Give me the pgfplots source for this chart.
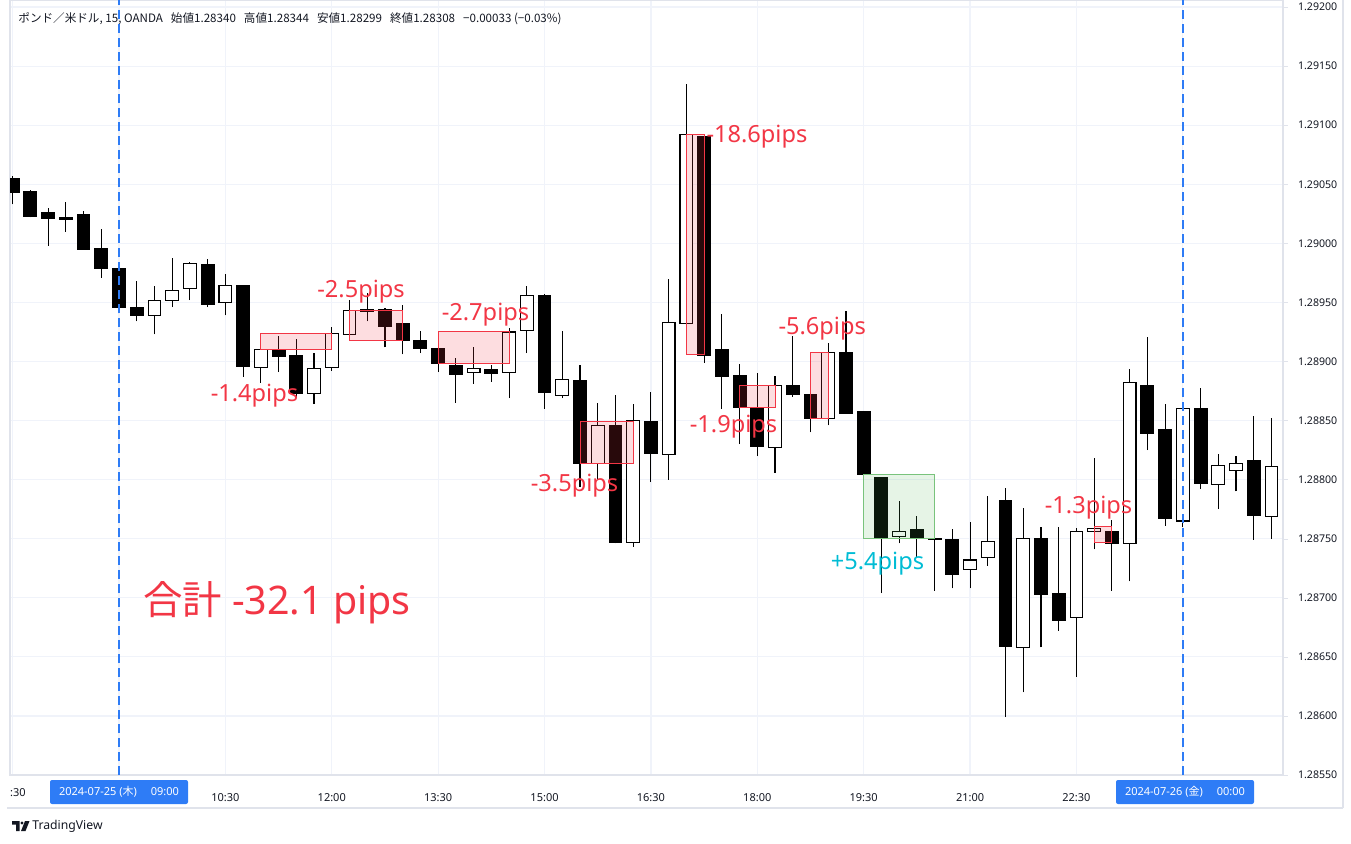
\documentclass[border=0pt]{standalone}
\usepackage{fontspec}
\setmainfont{Noto Sans}
\newfontfamily\jp{Noto Sans CJK JP}
\usepackage{pgfplots}
\usepackage{pgfplotstable}
\pgfplotsset{compat=1.18}
\definecolor{tvred}{HTML}{F23645}
\definecolor{tvgreen}{HTML}{4CAF50}
\definecolor{tvcyan}{HTML}{00BCD4}
\definecolor{tvblue}{HTML}{2E7CF6}
\definecolor{tvgrid}{HTML}{F0F3FA}
\definecolor{tvborder}{HTML}{E0E3EB}
\definecolor{tvtext}{HTML}{131722}
\newcommand\pipfont{\fontsize{11.8}{13}\selectfont}
\newcommand\tickfont{\fontsize{5.5}{6.5}\selectfont}
\newcommand\ytickfont{\fontsize{5.3}{6.3}\selectfont}

\pgfplotstableread{
i o h l c d
-6 1.29055 1.29057 1.29033 1.29043 1
-5 1.29044 1.29045 1.29022 1.29023 1
-4 1.29026 1.29030 1.28998 1.29021 1
-3 1.29022 1.29035 1.29010 1.29020 1
-2 1.29024 1.29027 1.28995 1.28995 1
-1 1.28996 1.29012 1.28971 1.28979 1
0 1.28979 1.28981 1.28941 1.28946 1
1 1.28946 1.28968 1.28934 1.28939 1
2 1.28939 1.28964 1.28923 1.28952 0
3 1.28952 1.28988 1.28946 1.28960 0
4 1.28962 1.28984 1.28952 1.28983 0
5 1.28982 1.28987 1.28946 1.28948 1
6 1.28950 1.28974 1.28939 1.28964 0
7 1.28964 1.28965 1.28887 1.28896 1
8 1.28895 1.28911 1.28882 1.28910 0
9 1.28910 1.28922 1.28891 1.28904 1
10 1.28905 1.28919 1.28869 1.28873 1
11 1.28873 1.28907 1.28864 1.28894 0
12 1.28895 1.28929 1.28892 1.28924 0
13 1.28923 1.28952 1.28922 1.28943 0
14 1.28944 1.28958 1.28934 1.28942 1
15 1.28944 1.28945 1.28912 1.28930 1
16 1.28932 1.28948 1.28906 1.28918 1
17 1.28918 1.28926 1.28907 1.28911 1
18 1.28911 1.28914 1.28891 1.28898 1
19 1.28897 1.28903 1.28865 1.28889 1
20 1.28891 1.28912 1.28881 1.28894 0
21 1.28893 1.28897 1.28883 1.28890 1
22 1.28891 1.28928 1.28869 1.28925 0
23 1.28926 1.28964 1.28907 1.28956 0
24 1.28956 1.28957 1.28860 1.28874 1
25 1.28871 1.28926 1.28869 1.28885 0
26 1.28884 1.28897 1.28794 1.28814 1
27 1.28814 1.28865 1.28800 1.28846 0
28 1.28846 1.28872 1.28746 1.28747 1
29 1.28747 1.28864 1.28743 1.28850 0
30 1.28849 1.28874 1.28798 1.28822 1
31 1.28821 1.28970 1.28800 1.28933 0
32 1.28932 1.29135 1.28931 1.29092 0
33 1.29090 1.29091 1.28899 1.28905 1
34 1.28910 1.28940 1.28860 1.28887 1
35 1.28888 1.28898 1.28830 1.28861 1
36 1.28860 1.28890 1.28820 1.28828 1
37 1.28827 1.28888 1.28806 1.28880 0
38 1.28880 1.28922 1.28870 1.28872 1
39 1.28872 1.28876 1.28840 1.28852 1
40 1.28852 1.28916 1.28846 1.28908 0
41 1.28908 1.28943 1.28856 1.28856 1
42 1.28858 1.28858 1.28804 1.28804 1
43 1.28802 1.28802 1.28704 1.28751 1
44 1.28752 1.28782 1.28746 1.28756 0
45 1.28758 1.28769 1.28734 1.28750 1
46 1.28750 1.28750 1.28706 1.28749 1
47 1.28749 1.28758 1.28708 1.28720 1
48 1.28724 1.28764 1.28708 1.28732 0
49 1.28734 1.28786 1.28727 1.28748 0
50 1.28782 1.28793 1.28599 1.28659 1
51 1.28658 1.28776 1.28620 1.28750 0
52 1.28750 1.28760 1.28658 1.28703 1
53 1.28704 1.28760 1.28672 1.28681 1
54 1.28683 1.28759 1.28633 1.28756 0
55 1.28756 1.28818 1.28741 1.28759 0
56 1.28756 1.28766 1.28706 1.28746 1
57 1.28746 1.28894 1.28714 1.28882 0
58 1.28880 1.28921 1.28825 1.28839 1
59 1.28842 1.28864 1.28761 1.28767 1
60 1.28765 1.28860 1.28760 1.28860 0
61 1.28860 1.28878 1.28792 1.28797 1
62 1.28796 1.28822 1.28775 1.28812 0
63 1.28808 1.28820 1.28790 1.28814 0
64 1.28816 1.28854 1.28749 1.28770 1
65 1.28769 1.28852 1.28750 1.28811 0
}\candles

\begin{document}
\begin{tikzpicture}
\path[use as bounding box] (0,0) rectangle (675.5pt,421.5pt);
\begin{axis}[
  at={(5pt,34pt)}, anchor=south west, scale only axis,
  width=636.5pt, height=387.5pt,
  xmin=-6.148, xmax=65.65, ymin=1.2855, ymax=1.29206,
  axis line style={draw=tvborder, line width=0.6pt},
  grid=major, major grid style={draw=tvgrid, line width=0.6pt},
  xtick={-6,0,6,12,18,24,30,36,42,48,54,60},
  xticklabels={{},{},10:30,12:00,13:30,15:00,16:30,18:00,19:30,21:00,22:30,{}},
  xtick style={draw=none},
  xticklabel style={font=\tickfont, text=tvtext, anchor=center, yshift=-9pt},
  ytick={1.2855,1.2860,1.2865,1.2870,1.2875,1.2880,1.2885,1.2890,1.2895,1.2900,1.2905,1.2910,1.2915,1.2920},
  yticklabels={1.28550,1.28600,1.28650,1.28700,1.28750,1.28800,1.28850,1.28900,1.28950,1.29000,1.29050,1.29100,1.29150,1.29200},
  ytick pos=right, yticklabel pos=right,
  ytick style={draw=tvborder}, tick align=outside, major tick length=2.5pt,
  yticklabel style={font=\ytickfont, text=tvtext, anchor=west, xshift=1.5pt},
  wick/.style={black, line width=0.55pt, forget plot},
  body/.style={draw=black, line width=0.55pt, forget plot},
  redbox/.style={draw=tvred, line width=0.5pt, fill=tvred, fill opacity=0.17, forget plot},
  greenbox/.style={draw=tvgreen!75, line width=0.5pt, fill=tvgreen, fill opacity=0.14, forget plot},
]
\pgfplotsforeachungrouped \r in {0,...,71}{
  \pgfplotstablegetelem{\r}{i}\of\candles \let\ci\pgfplotsretval
  \pgfplotstablegetelem{\r}{o}\of\candles \let\co\pgfplotsretval
  \pgfplotstablegetelem{\r}{h}\of\candles \let\ch\pgfplotsretval
  \pgfplotstablegetelem{\r}{l}\of\candles \let\cl\pgfplotsretval
  \pgfplotstablegetelem{\r}{c}\of\candles \let\cc\pgfplotsretval
  \pgfplotstablegetelem{\r}{d}\of\candles \let\cd\pgfplotsretval
  \pgfmathsetmacro\xa{\ci-0.36}
  \pgfmathsetmacro\xb{\ci+0.36}
  \edef\temp{\noexpand\addplot[wick] coordinates {(\ci,\cl) (\ci,\ch)};
    \noexpand\addplot[body, fill=\ifnum\cd=1 black\else white\fi] coordinates {(\xa,\co) (\xb,\co) (\xb,\cc) (\xa,\cc)} -- cycle;}
  \temp
}
% trade boxes
\addplot[redbox] coordinates {(8,1.28910) (12,1.28910) (12,1.28924) (8,1.28924)} -- cycle;
\addplot[redbox] coordinates {(13,1.28918) (16,1.28918) (16,1.28943) (13,1.28943)} -- cycle;
\addplot[redbox] coordinates {(18,1.28898) (22,1.28898) (22,1.28925) (18,1.28925)} -- cycle;
\addplot[redbox] coordinates {(26,1.28814) (29,1.28814) (29,1.28849) (26,1.28849)} -- cycle;
\addplot[redbox] coordinates {(32,1.28906) (33,1.28906) (33,1.29092) (32,1.29092)} -- cycle;
\addplot[redbox] coordinates {(35,1.28861) (37,1.28861) (37,1.28880) (35,1.28880)} -- cycle;
\addplot[redbox] coordinates {(39,1.28852) (40,1.28852) (40,1.28908) (39,1.28908)} -- cycle;
\addplot[greenbox] coordinates {(42,1.28750) (46,1.28750) (46,1.28804) (42,1.28804)} -- cycle;
\addplot[redbox] coordinates {(55,1.28747) (56,1.28747) (56,1.28760) (55,1.28760)} -- cycle;
% session lines
\addplot[tvblue, line width=0.8pt, dash pattern=on 4.5pt off 2.5pt, forget plot] coordinates {(0,1.2855) (0,1.29206)};
\addplot[tvblue, line width=0.8pt, dash pattern=on 4.5pt off 2.5pt, forget plot] coordinates {(60,1.2855) (60,1.29206)};
% labels
\node[text=tvred, font=\pipfont] at (7.64,1.28871) {-1.4pips};
\node[text=tvred, font=\pipfont] at (13.65,1.28959) {-2.5pips};
\node[text=tvred, font=\pipfont] at (20.67,1.28940) {-2.7pips};
\node[text=tvred, font=\pipfont] at (25.69,1.28795) {-3.5pips};
\node[text=tvred, font=\pipfont] at (35.98,1.29090) {-18.6pips};
\node[text=tvred, font=\pipfont] at (34.66,1.28845) {-1.9pips};
\node[text=tvred, font=\pipfont] at (39.66,1.28928) {-5.6pips};
\node[text=tvcyan, font=\pipfont] at (42.78,1.28729) {+5.4pips};
\node[text=tvred, font=\pipfont] at (54.68,1.28776) {-1.3pips};
\node[text=tvred, font=\fontsize{19.7}{22}\selectfont] at (8.91,1.28696) {{\jp 合計} -32.1 pips};
\end{axis}
\begin{scope}[shift={(0pt,421.5pt)}, x=0.5pt, y=-0.5pt]
  \node[anchor=west, inner sep=0, text=tvtext, font=\jp\fontsize{5.8}{7}\selectfont] at (18,19)
    {ポンド／米ドル, 15, OANDA\hspace{4pt}始値1.28340\hspace{4pt}高値1.28344\hspace{4pt}安値1.28299\hspace{4pt}終値1.28308\hspace{4pt}−0.00033 (−0.03\%)};
  \draw[tvborder, line width=0.6pt] (7,808) -- (1343,808);
  \draw[tvborder, line width=0.6pt] (1343,0) -- (1343,808);
  \node[font=\tickfont, text=tvtext, inner sep=0] at (18,793) {:30};
  \node[fill=tvblue, text=white, minimum width=69pt, minimum height=12pt, inner sep=0, rounded corners=1pt, font=\tickfont] at (119,792) {2024-07-25 ({\jp 木})\hspace{7pt}09:00};
  \node[fill=tvblue, text=white, minimum width=69pt, minimum height=12pt, inner sep=0, rounded corners=1pt, font=\tickfont] at (1185,792) {2024-07-26 ({\jp 金})\hspace{7pt}00:00};
  \fill[tvtext] (12,821) -- (19.5,821) -- (19.5,831) -- (16,831) -- (16,824.5) -- (12,824.5) -- cycle;
  \fill[tvtext] (22,823) circle (1.7);
  \fill[tvtext] (25,821) -- (29.5,821) -- (25.5,831) -- (21,831) -- cycle;
  \node[anchor=west, inner sep=0, text=tvtext, font=\fontsize{6.1}{7}\selectfont] at (32,826) {TradingView};
\end{scope}
\end{tikzpicture}
\end{document}
